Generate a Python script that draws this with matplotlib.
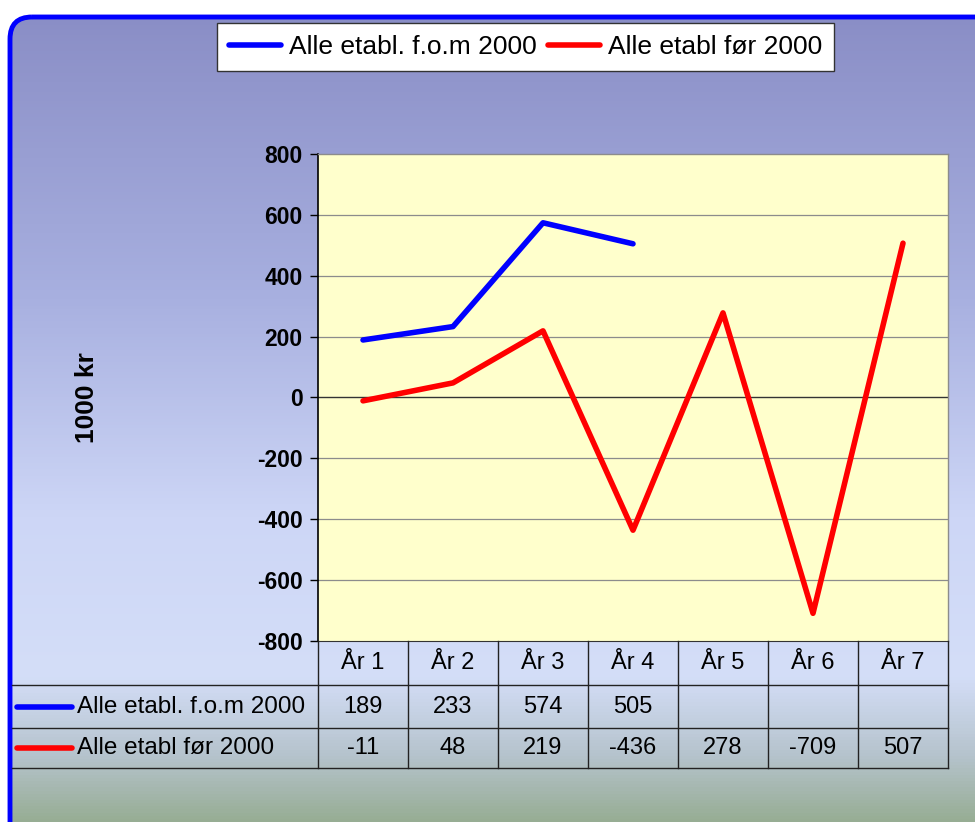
import numpy as np
import matplotlib.pyplot as plt
from matplotlib.patches import FancyBboxPatch
from matplotlib.colors import LinearSegmentedColormap

plt.rcParams['font.family'] = ['Liberation Sans', 'DejaVu Sans']

# data
years = ['År 1', 'År 2', 'År 3', 'År 4', 'År 5', 'År 6', 'År 7']
etabl_fom_2000 = [189, 233, 574, 505]
etabl_for_2000 = [-11, 48, 219, -436, 278, -709, 507]
series_names = ['Alle etabl. f.o.m 2000', 'Alle etabl før 2000']
series_colors = ['#0000ff', '#ff0000']
yticks = [800, 600, 400, 200, 0, -200, -400, -600, -800]

W, H = 975, 822


def box(l, t, r, b):
    # pixel box -> figure fraction [left, bottom, width, height]
    return [l / W, 1 - b / H, (r - l) / W, (b - t) / H]


fig = plt.figure(figsize=(W / 100, H / 100), dpi=100)
fig.patch.set_facecolor('white')

# background with gradient and rounded blue frame
bg = fig.add_axes([0, 0, 1, 1])
bg.set_xlim(0, W)
bg.set_ylim(H, 0)
bg.axis('off')
cmap = LinearSegmentedColormap.from_list('bg', [
    (0.0, '#8a8ec6'), (0.35, '#a8b0e0'), (0.62, '#cdd6f6'),
    (0.82, '#d4def8'), (0.92, '#b5c3cc'), (1.0, '#97ad94')])
grad = np.linspace(0, 1, 256).reshape(-1, 1)
frame = FancyBboxPatch((10, 17), 1000, 840, boxstyle='round,pad=0,rounding_size=22',
                       facecolor='none', edgecolor='#0000ff', linewidth=3.5, zorder=3)
bg.add_patch(frame)
im = bg.imshow(grad, cmap=cmap, extent=(10, 1010, 822, 17), aspect='auto', zorder=1)
im.set_clip_path(frame)

# main plot
ax = fig.add_axes(box(318, 154, 948, 641))
x = np.arange(len(years))
ax.set_facecolor('#ffffcc')
ax.plot(x[:len(etabl_fom_2000)], etabl_fom_2000, color=series_colors[0], lw=4,
        solid_capstyle='round', label=series_names[0], zorder=3)
ax.plot(x, etabl_for_2000, color=series_colors[1], lw=4,
        solid_capstyle='round', label=series_names[1], zorder=3)
ax.set_xlim(-0.5, len(years) - 0.5)
ax.set_ylim(-800, 800)
ax.set_yticks(yticks)
ax.set_yticklabels([str(v) for v in yticks], fontsize=16.5, fontweight='bold')
ax.set_xticks([])
for v in yticks:
    if v == 0:
        ax.axhline(v, color='#333333', lw=1.0, zorder=2)
    elif v not in (800, -800):
        ax.axhline(v, color='#8c8c8c', lw=0.9, zorder=1)
ax.tick_params(axis='y', length=6, width=1, color='black', pad=5)
ax.spines['left'].set_color('black')
ax.spines['left'].set_linewidth(1.2)
for s in ['top', 'right']:
    ax.spines[s].set_color('#8c8c8c')
    ax.spines[s].set_linewidth(1.0)
ax.spines['bottom'].set_color('#333333')
ax.set_ylabel('1000 kr', fontsize=19, fontweight='bold', labelpad=0)
ax.yaxis.set_label_coords(-0.348, 0.5)

leg = fig.legend(loc='center', bbox_to_anchor=((213 + 838) / 2 / W, 1 - 47 / H),
                 ncol=2, fontsize=19, frameon=True, fancybox=False, framealpha=1,
                 handlelength=2.0, handletextpad=0.3, columnspacing=0.4,
                 borderpad=0.45)
leg.get_frame().set_edgecolor('#333333')
leg.get_frame().set_linewidth(1.0)
leg.get_frame().set_facecolor('white')

# data table below the plot
tab = fig.add_axes(box(318, 641, 948, 768))
tab.set_xlim(-0.5, len(years) - 0.5)
tab.set_ylim(127, 0)
tab.axis('off')
left_x = -0.5 - (318 - 12) / 90
rows = [0, 44, 87, 127]
line_kw = dict(color='#222222', lw=1.0, clip_on=False)
for r in rows[1:]:
    tab.plot([left_x, len(years) - 0.5], [r, r], **line_kw)
for i in range(len(years) + 1):
    tab.plot([i - 0.5, i - 0.5], [0, 127], **line_kw)
for i, lab in enumerate(years):
    tab.text(i, 22, lab, ha='center', va='center', fontsize=17)
series = [etabl_fom_2000, etabl_for_2000]
for k, vals in enumerate(series):
    yc = (rows[k + 1] + rows[k + 2]) / 2
    for i, v in enumerate(vals):
        tab.text(i, yc, str(v), ha='center', va='center', fontsize=17)
    x0 = -0.5 - (318 - 17) / 90
    x1 = -0.5 - (318 - 72) / 90
    tab.plot([x0, x1], [yc, yc], color=series_colors[k], lw=4,
             solid_capstyle='round', clip_on=False)
    tab.text(-0.5 - (318 - 77) / 90, yc, series_names[k], ha='left', va='center',
             fontsize=17.5)

fig.savefig('out.png', dpi=100)
